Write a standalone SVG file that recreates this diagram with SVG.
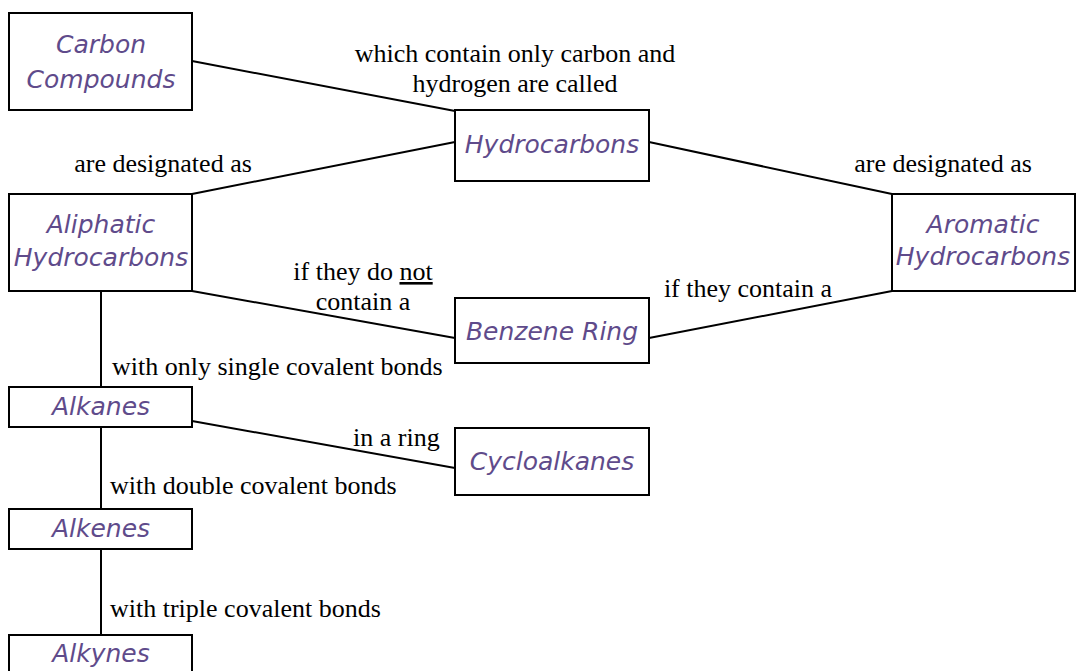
<svg xmlns="http://www.w3.org/2000/svg" width="1076" height="671" viewBox="0 0 1076 671">
<style>
.box{fill:#fff;stroke:#000;stroke-width:2}
.nt{font-family:"DejaVu Sans",sans-serif;font-style:italic;font-size:25px;fill:#5f4b8b;text-anchor:middle}
.lb{font-family:"Liberation Serif",serif;font-size:26px;fill:#000}
.c{text-anchor:middle}
.ln{stroke:#000;stroke-width:2;fill:none}
</style>
<rect width="1076" height="671" fill="#fff"/>
<g id="connectors">
<line class="ln" x1="192" y1="61" x2="455" y2="111"/>
<line class="ln" x1="192" y1="194" x2="455" y2="142"/>
<line class="ln" x1="649" y1="142" x2="892" y2="194"/>
<line class="ln" x1="192" y1="291" x2="455" y2="338"/>
<line class="ln" x1="649" y1="338" x2="892" y2="291"/>
<line class="ln" x1="101" y1="291" x2="101" y2="387"/>
<line class="ln" x1="192" y1="421" x2="455" y2="468"/>
<line class="ln" x1="101" y1="427" x2="101" y2="509"/>
<line class="ln" x1="101" y1="549" x2="101" y2="635"/>
</g>
<g id="labels">
<text class="lb c" x="515" y="62">which contain only carbon and</text>
<text class="lb c" x="515" y="92">hydrogen are called</text>
<text class="lb c" x="163" y="172">are designated as</text>
<text class="lb c" x="943" y="172">are designated as</text>
<text class="lb c" x="363" y="280">if they do <tspan text-decoration="underline">not</tspan></text>
<text class="lb c" x="363" y="310">contain a</text>
<text class="lb c" x="748" y="297">if they contain a</text>
<text class="lb" x="112" y="375">with only single covalent bonds</text>
<text class="lb" x="353" y="446">in a ring</text>
<text class="lb" x="110" y="494">with double covalent bonds</text>
<text class="lb" x="110" y="617">with triple covalent bonds</text>
</g>
<g id="n-carbon"><rect class="box" x="9" y="13" width="183" height="97"/><text class="nt" x="101" y="53">Carbon</text><text class="nt" x="101" y="88">Compounds</text></g>
<g id="n-hydro"><rect class="box" x="455" y="110" width="194" height="71"/><text class="nt" x="552" y="153">Hydrocarbons</text></g>
<g id="n-aliph"><rect class="box" x="9" y="194" width="183" height="97"/><text class="nt" x="101" y="233">Aliphatic</text><text class="nt" x="101" y="266">Hydrocarbons</text></g>
<g id="n-arom"><rect class="box" x="892" y="194" width="183" height="97"/><text class="nt" x="983" y="233">Aromatic</text><text class="nt" x="983" y="265">Hydrocarbons</text></g>
<g id="n-benz"><rect class="box" x="455" y="298" width="194" height="65"/><text class="nt" x="552" y="340">Benzene Ring</text></g>
<g id="n-alkanes"><rect class="box" x="9" y="387" width="183" height="40"/><text class="nt" x="101" y="415">Alkanes</text></g>
<g id="n-cyclo"><rect class="box" x="455" y="428" width="194" height="67"/><text class="nt" x="552" y="470">Cycloalkanes</text></g>
<g id="n-alkenes"><rect class="box" x="9" y="509" width="183" height="40"/><text class="nt" x="101" y="537">Alkenes</text></g>
<g id="n-alkynes"><rect class="box" x="9" y="635" width="183" height="40"/><text class="nt" x="101" y="662">Alkynes</text></g>
</svg>
